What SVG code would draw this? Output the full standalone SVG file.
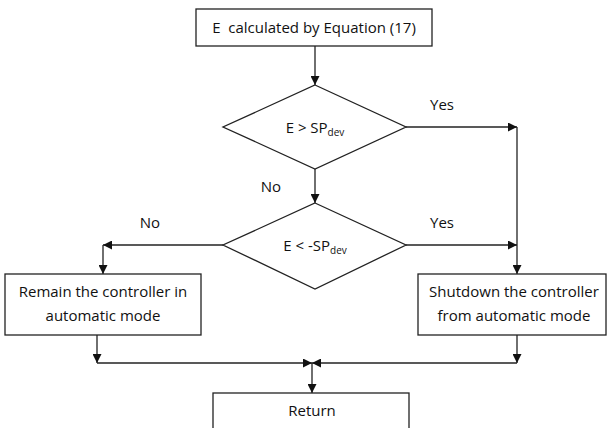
<svg xmlns="http://www.w3.org/2000/svg" width="610" height="428" viewBox="0 0 610 428">
<style>
.box{fill:#fff;stroke:#222;stroke-width:1.3}
.ln{fill:none;stroke:#222;stroke-width:1.3}
text{font-family:"Open Sans","Noto Sans","Liberation Sans",sans-serif;font-size:15px;fill:#111;text-anchor:middle}
.sub{font-size:10px}
</style>
<defs>
<marker id="ah" viewBox="0 0 10 10" refX="10" refY="5" markerWidth="9" markerHeight="9" markerUnits="userSpaceOnUse" orient="auto">
<path d="M0,0 L10,5 L0,10 z" fill="#111"/>
</marker>
</defs>
<rect width="610" height="428" fill="#fff"/>
<g id="connectors" class="conn">
<path class="ln" d="M315,46 V85" marker-end="url(#ah)"/>
<path class="ln" d="M406,127 H517" marker-end="url(#ah)"/>
<path class="ln" d="M517,127 V274" marker-end="url(#ah)"/>
<path class="ln" d="M315,169 V203" marker-end="url(#ah)"/>
<path class="ln" d="M223,245 H103" marker-end="url(#ah)"/>
<path class="ln" d="M103,245 V274" marker-end="url(#ah)"/>
<path class="ln" d="M406,245 H517" marker-end="url(#ah)"/>
<path class="ln" d="M97,335 V363" marker-end="url(#ah)"/>
<path class="ln" d="M97,363 H312" marker-end="url(#ah)"/>
<path class="ln" d="M517,335 V363" marker-end="url(#ah)"/>
<path class="ln" d="M517,363 H312" marker-end="url(#ah)"/>
<path class="ln" d="M312,363 V393" marker-end="url(#ah)"/>
<text x="442" y="110">Yes</text>
<text x="271" y="192">No</text>
<text x="150" y="228">No</text>
<text x="442" y="228">Yes</text>
</g>
<g id="start">
<rect class="box" x="196" y="9" width="236" height="37"/>
<text x="314" y="33" xml:space="preserve">E  calculated by Equation (17)</text>
</g>
<g id="decision1">
<polygon class="box" points="315,85 406,127 315,169 223,127"/>
<text x="315" y="133">E &gt; SP<tspan class="sub" dy="3">dev</tspan></text>
</g>
<g id="decision2">
<polygon class="box" points="315,203 406,245 315,289 223,245"/>
<text x="315" y="251">E &lt; -SP<tspan class="sub" dy="3">dev</tspan></text>
</g>
<g id="remain">
<rect class="box" x="5" y="274" width="196" height="61"/>
<text x="103" y="297">Remain the controller in</text>
<text x="103" y="321">automatic mode</text>
</g>
<g id="shutdown">
<rect class="box" x="418" y="274" width="188" height="61"/>
<text x="514" y="297">Shutdown the controller</text>
<text x="514" y="321">from automatic mode</text>
</g>
<g id="return">
<rect class="box" x="213" y="393" width="196" height="45"/>
<text x="312" y="416">Return</text>
</g>
</svg>
